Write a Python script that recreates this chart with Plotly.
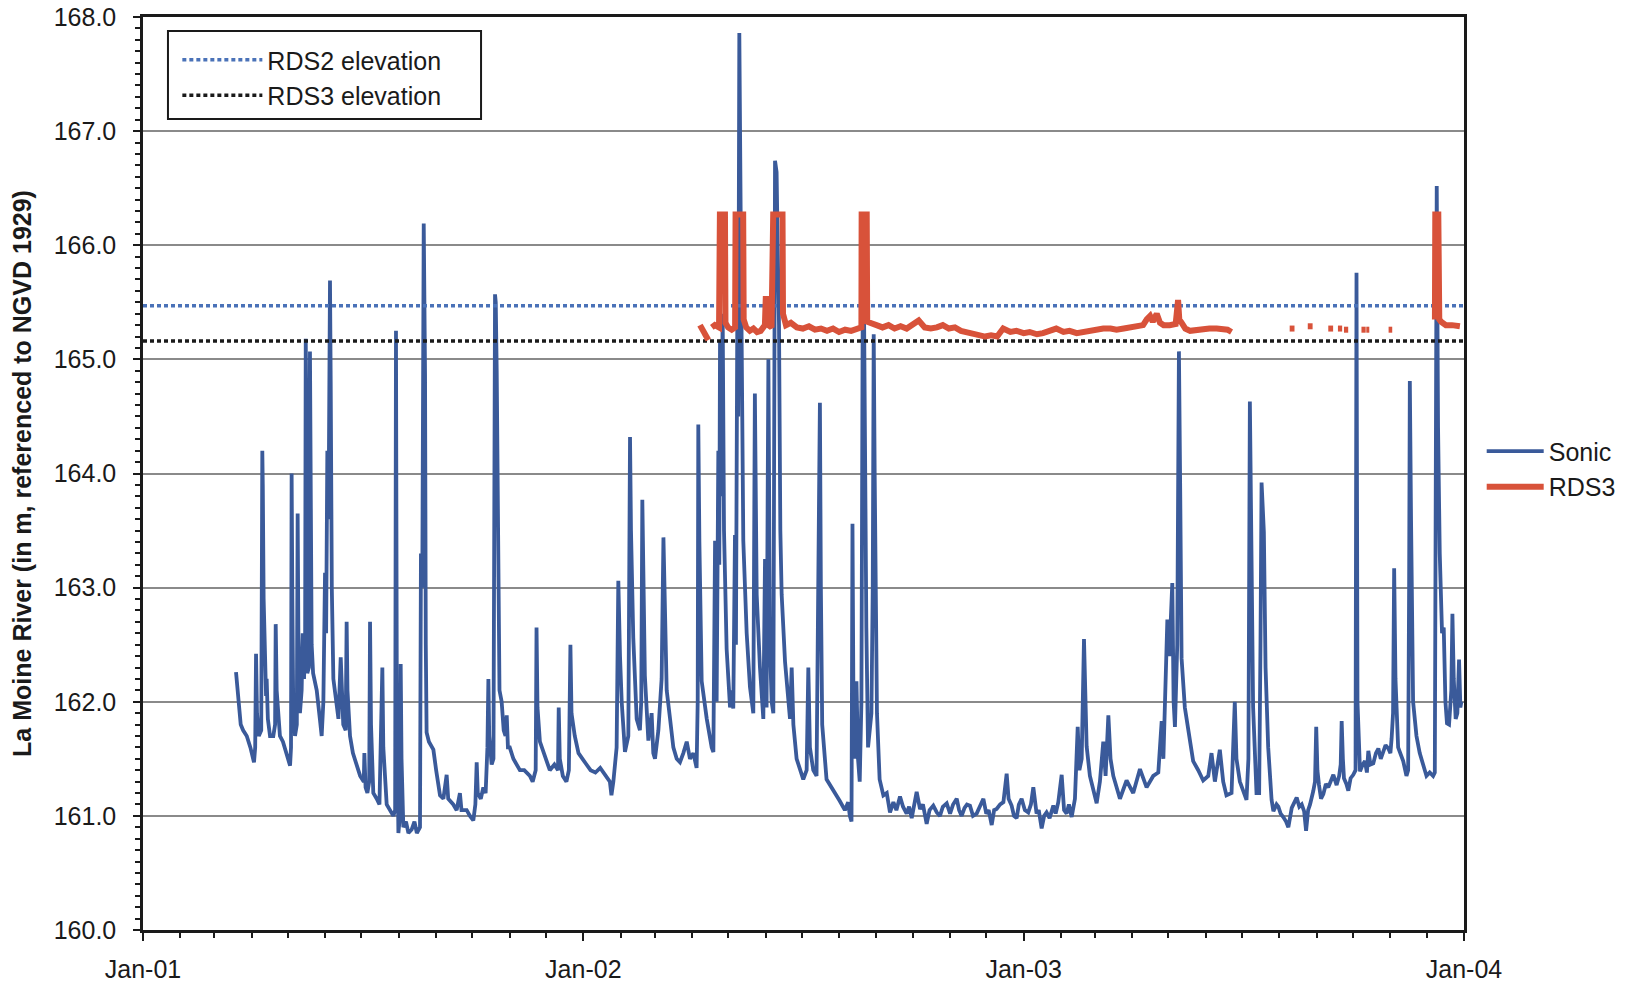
import plotly.graph_objects as go
import pandas as pd

# ---------------- data ----------------
# days since 1 Jan 2001, water level (m, NGVD 1929)
sonic_day = [
    77.1, 79, 81, 83, 86, 89, 92, 93, 93.7, 94.5, 96, 98, 98.9, 99.3, 100, 101.1, 102, 102.5, 103.5, 105.3,
    108, 109.5, 110, 110.8, 112, 113.5, 116, 119, 121.9, 122.7, 123.2, 123.8, 124.5, 126, 127.5, 128.2, 128.8,
    130.1, 131.5, 132.4, 133.5, 134.4, 134.9, 135.4, 136.2, 137.5, 138.4, 139, 139.8, 141, 144, 146.7, 148.1,
    149.5, 150.9, 151.8, 152.8, 153.8, 155, 155.6, 156.5, 157.8, 160.5, 162, 163.9, 165, 166, 168, 168.8, 169.5,
    171.6, 174, 177.1, 180, 183, 183.5, 184.5, 186, 187.5, 188.2, 189, 190.9, 193.7, 196, 198.4, 199.2, 202,
    205, 207.5, 209, 209.7, 210.4, 211, 211.7, 213, 213.6, 214.3, 215.8, 218, 220, 222.7, 225, 227, 229.6,
    230.4, 231.5, 232.7, 233.2, 233.8, 234.4, 235.1, 237, 240.7, 243, 246.2, 249, 251.7, 253, 257.2, 260,
    262.7, 264, 268.3, 271, 273.8, 275.5, 276.6, 277.5, 280, 282.1, 284, 285.5, 286.3, 287, 289, 290.5, 291.8,
    292.4, 293.2, 294, 294.6, 295.5, 297.3, 299, 300.5, 301.5, 302.5, 304, 307, 312.4, 316, 320.7, 323, 325.5,
    326.2, 327, 329, 332, 337.2, 341, 344, 344.6, 345.5, 348, 351, 353, 354.3, 355.2, 357.9, 361, 364, 367.6,
    371, 375, 379, 381.4, 384, 387, 388.3, 389.9, 392.6, 394, 395.4, 396.8, 399.5, 402.3, 403.7, 404.5,
    406.4, 409.2, 411.9, 413, 413.9, 414.7, 416, 418.9, 421.6, 423, 424.4, 427.2, 429.9, 431.4, 432.7, 434.1,
    436.9, 439.6, 442.4, 445.1, 447.9, 450.7, 453.4, 456.2, 458.9, 459.8, 460.3, 461.2, 463.1, 467.3, 471.4,
    472.8, 474.2, 475.5, 476.9, 477.7, 478.3, 479.1, 480.5, 481.6, 483.8, 486.6, 488, 489.3, 490.7, 491.5,
    492.6, 493.4, 494.3, 495.1, 496.2, 497.6, 500.4, 503.1, 505.9, 507.2, 508.1, 508.7, 511.4, 514.2, 515.6,
    516.9, 518.4, 519.7, 521.1, 522.5, 523.9, 525.2, 526.1, 527.2, 528.3, 529.4, 532.2, 534.9, 536.3, 537.7,
    539.1, 541.8, 544.6, 547.3, 550.1, 551.5, 552.8, 555.6, 558.3, 561.1, 561.9, 563, 566.6, 572.1, 577.6,
    581.8, 584.5, 585.9, 587.3, 588.1, 588.9, 590, 591.4, 592.7, 594.1, 595.5, 596.6, 597.7, 598.8, 599.6,
    601, 603.8, 604.9, 605.7, 606.5, 607.3, 608.4,
    610.6, 613.7, 616.5, 619.2, 622, 624.5, 627.5, 630, 633, 635, 637.2, 641.3, 644.1, 646.5, 649.6, 652,
    655.1, 658, 660.6, 663, 666.2, 669, 671.5, 674.5, 676.5, 678.6, 681, 683, 685.5, 688, 691, 693.5, 696.6,
    699, 701, 703.5, 705.5, 707.6, 710.5, 713.2, 715.9, 717.5, 720, 722, 724.2, 726, 728.3, 731, 733.8, 736,
    738, 740.7, 742.5, 744.9, 747, 749, 751.5, 754.6, 756.5, 758.7, 761.5, 763.5, 765.6, 767.5, 769.8, 772.5,
    773.9, 774.8, 776.2, 778.1, 780,
    781.1, 782.2, 784.9, 790.5, 793.2, 796, 797.9, 800.2, 802, 804.3, 809.8, 815.3, 820.8, 826.4, 831.9,
    837.4, 841.6, 844.4, 845.8, 847.7, 849.1, 850.7, 851.8, 853.2, 854.3, 855.4, 857.3, 858.7, 859.8, 860.9,
    863.6, 866.4, 870.5, 874.7, 878.8, 883, 885.7, 888.5, 892.6, 895.4, 898.1, 902.3, 905, 906.4, 909.2,
    914.7, 916.3, 917.5, 918.6, 920.2, 923, 925.2, 926.3, 927.2, 929.1, 930.5,
    932.7, 935.5, 937, 939.6, 941.1, 943, 945.2, 947.5, 949.4, 951,
    952.2, 954.5, 956.3, 958.5, 960.5, 962.5, 964.1, 965.8, 967.4, 970.1,
    971.5, 972.5, 973.5, 974.8, 976.5, 978.4, 980.5, 982.5, 984.5, 986.7,
    989.4, 991.5, 992.8, 993.6, 994.6, 995.5, 997.5, 999.1, 1001, 1003.2,
    1005.1, 1005.9, 1006.7, 1008.8, 1011, 1012.9, 1014.5, 1015.7, 1017.5, 1019.8,
    1022, 1024, 1026, 1028.1, 1030, 1032.3, 1034, 1035, 1036.2,
    1037.1, 1038.2, 1040.4,
    1044.6, 1047.3, 1048.7, 1049.5, 1050.1, 1051.1, 1052.8, 1055.6, 1058.3, 1061.1, 1063.9, 1066.6, 1069.4,
    1070.8, 1071.6, 1072.4, 1073.5, 1074.9, 1076.8, 1078.2, 1079.6, 1080.9, 1082.6, 1084.5, 1085.4, 1086.5,
    1088.1, 1089.5, 1090.9, 1092, 1092.8,
]
sonic_level = [
    162.26, 162.0, 161.8, 161.75, 161.7, 161.6, 161.47, 161.6, 162.42, 161.9, 161.7, 161.75, 164.2, 163.9, 162.9, 162.25, 162.05, 162.2, 161.85, 161.7,
    161.7, 161.8, 162.68, 162.1, 161.85, 161.7, 161.65, 161.55, 161.44, 161.6, 164.0, 162.9, 162.0, 161.7, 161.8, 163.65, 162.6,
    161.9, 162.1, 162.6, 162.2, 162.6, 165.18, 164.5, 162.25, 162.3, 165.07, 164.3, 162.5, 162.25, 162.1, 161.84, 161.7,
    162.0, 163.13, 162.6, 164.2, 163.6, 165.69, 164.8, 163.0, 162.2, 161.97, 161.85, 162.39, 161.95, 161.8, 161.75, 162.7, 162.1,
    161.7, 161.55, 161.44, 161.35, 161.3, 161.55, 161.25, 161.2, 161.3, 162.7, 161.8, 161.2, 161.15, 161.1, 162.3, 161.6, 161.1,
    161.05, 161.0, 161.05, 165.25, 162.0, 161.1, 160.85, 161.0, 162.33, 161.5, 160.9, 160.95, 160.85, 160.88, 160.95, 160.85, 160.9,
    163.3, 163.0, 166.19, 165.5, 164.87, 162.5, 161.73, 161.65, 161.58, 161.4, 161.18, 161.15, 161.36, 161.15, 161.1, 161.05,
    161.2, 161.05, 161.05, 161.0, 160.96, 161.1, 161.47, 161.2, 161.15, 161.25, 161.2, 161.6, 162.2, 161.7, 161.45, 161.5, 165.57,
    165.5, 164.9, 163.5, 162.4, 162.1, 162.0, 161.75, 161.7, 161.88, 161.6, 161.6, 161.5, 161.4, 161.4, 161.35, 161.3, 161.4,
    162.65, 161.95, 161.65, 161.55, 161.4, 161.45, 161.4, 161.95, 161.5, 161.35, 161.3, 161.4, 162.5, 161.9, 161.7, 161.55, 161.5, 161.45,
    161.4, 161.38, 161.42, 161.38, 161.35, 161.3, 161.18, 161.3, 161.6, 163.06, 162.4, 162.0, 161.56, 161.7, 164.32, 163.5,
    162.56, 161.85, 161.75, 162.0, 163.77, 163.0, 162.23, 161.66, 161.9, 161.55, 161.5, 161.75, 162.2, 163.44, 162.7, 162.1,
    161.85, 161.6, 161.5, 161.47, 161.55, 161.65, 161.5, 161.55, 161.42, 162.0, 164.43, 163.4, 162.18, 161.85, 161.6,
    161.56, 163.41, 162.0, 164.2, 163.2, 165.17, 163.8, 165.4, 163.5, 162.46, 161.95, 162.1, 161.94, 163.46, 162.5,
    165.3, 164.5, 167.86, 166.0, 165.2, 163.41, 162.6, 162.13, 161.9, 164.7, 163.6, 162.94, 162.3, 161.85, 163.25,
    161.95, 165.0, 162.5, 162.0, 161.9, 166.74, 166.64, 166.0, 165.3, 163.5, 162.94, 162.35, 162.0, 161.85, 162.3,
    161.8, 161.5, 161.4, 161.32, 161.4, 162.3, 161.6, 161.4, 161.35, 164.62, 163.0, 161.8, 161.32, 161.23, 161.13,
    161.05, 161.12, 161.0, 160.95, 163.56, 162.0, 161.5, 162.18, 161.5, 161.3, 162.0, 165.5, 165.4, 163.5, 162.65,
    161.6, 161.9, 163.0, 165.22, 164.0, 162.6, 161.9,
    161.32, 161.18, 161.2, 161.03, 161.12, 161.05, 161.17, 161.08, 161.02, 161.08, 160.98, 161.21, 161.06, 161.1, 160.93, 161.05,
    161.09, 161.03, 161.0, 161.08, 161.11, 161.02, 161.1, 161.15, 161.05, 161.0, 161.07, 161.1, 161.09, 161.0, 161.02, 161.08, 161.15,
    161.02, 161.05, 160.92, 161.05, 161.06, 161.1, 161.12, 161.37, 161.15, 161.09, 161.0, 160.98, 161.1, 161.15, 161.05, 161.03, 161.1,
    161.25, 161.02, 161.05, 160.89, 161.0, 161.03, 160.98, 161.09, 161.02, 161.12, 161.36, 161.05, 161.02, 161.1, 160.99, 161.15,
    161.6, 161.78, 161.4, 161.5, 162.55,
    162.0, 161.61, 161.35, 161.11, 161.3, 161.65, 161.35, 161.88, 161.5, 161.35, 161.15, 161.31, 161.2, 161.41, 161.25,
    161.35, 161.38, 161.83, 161.5, 162.3, 162.72, 162.4, 162.72, 163.04, 162.0, 161.78, 162.5, 165.07, 163.8, 162.38,
    161.95, 161.75, 161.48, 161.4, 161.31, 161.35, 161.55, 161.3, 161.58, 161.3, 161.18, 161.2, 162.0, 161.5, 161.3,
    161.14, 161.5, 164.63, 163.5, 161.95, 161.2, 161.2, 162.5, 163.92, 163.49, 162.3,
    161.6, 161.14, 161.04, 161.1, 161.08, 161.02, 160.99, 160.95, 160.9, 161.0,
    161.07, 161.12, 161.16, 161.08, 161.1, 161.04, 160.87, 161.05, 161.1, 161.22,
    161.3, 161.78, 161.4, 161.27, 161.15, 161.19, 161.28, 161.25, 161.3, 161.36,
    161.27, 161.35, 161.45, 161.83, 161.5, 161.33, 161.28, 161.22, 161.33, 161.36,
    161.4, 165.76, 162.0, 161.39, 161.45, 161.48, 161.38, 161.57, 161.45, 161.46,
    161.55, 161.59, 161.5, 161.56, 161.62, 161.59, 161.55, 161.68, 161.9,
    163.17, 162.2, 161.6,
    161.48, 161.35, 161.4, 163.0, 164.81, 163.6, 162.0, 161.7, 161.55, 161.45, 161.35, 161.38, 161.35,
    161.38, 164.0, 166.52, 164.4, 163.3, 162.6, 162.65, 162.0, 161.81, 161.8, 162.1, 162.77, 162.2,
    161.85, 161.9, 162.37, 161.95, 162.0,
]

# RDS3 record (None = gap in the record)
rds3_day = [
    461.7, 468.6, None,
    471.5, 474, 477.5, 478.2, 482.4, 482.8, 485, 488, 490.8, 491.2, 497.5, 497.9, 500, 503, 506, 509, 512,
    515.5, 516.2, 518, 518.5, 521, 522.4, 530.1, 530.5, 533, 537, 542, 547, 552, 557, 562, 567, 572, 577, 582,
    587, 592, 595.5, 595.7, 599.9, 600.3, 604, 608, 613, 618, 623, 628, 633, 638, 643, 648, 653, 658, 663, 668,
    673, 678, 683, 688, 693, 698, 703, 708, 713, 719, 724, 730, 735, 741, 746, 752, 757, 763, 768, 774, 779,
    785, 790, 796, 802, 807, 813, 818, 824, 829, 832, 834.8, 837, 840.3, 843, 846, 851, 856, 858, 859, 861,
    864, 868, 873, 879, 884, 890, 895, 899, 902.3, None,
    950.5, 954.5, None, 965.5, 969.5, None, 982.5, 986.5, None, 990.5, 994, None, 995.5, 999, None,
    1010, 1013.5, None, 1014, 1016.5, None, 1032.5, 1035.5, None,
    1070.9, 1071.2, 1073.7, 1074.5, 1076, 1080, 1085, 1091.6,
]
rds3_level = [
    165.30, 165.17, None,
    165.28, 165.30, 165.28, 166.27, 166.27, 165.32, 165.28, 165.26, 165.28, 166.27, 166.27, 165.35, 165.28, 165.25, 165.27, 165.24, 165.25,
    165.30, 165.53, 165.53, 165.30, 165.28, 166.27, 166.27, 165.40, 165.30, 165.32, 165.28, 165.27, 165.29, 165.26, 165.27, 165.25, 165.27, 165.24, 165.26,
    165.25, 165.27, 165.28, 166.27, 166.27, 165.33, 165.31, 165.30, 165.28, 165.30, 165.27, 165.29, 165.27, 165.30, 165.34, 165.28, 165.27, 165.28, 165.30, 165.27,
    165.28, 165.25, 165.24, 165.22, 165.21, 165.20, 165.21, 165.20, 165.27, 165.24, 165.25, 165.23, 165.24, 165.22, 165.23, 165.25, 165.27, 165.24, 165.25, 165.23, 165.24,
    165.25, 165.25, 165.27, 165.27, 165.26, 165.27, 165.28, 165.28, 165.30, 165.35, 165.38, 165.33, 165.40, 165.32, 165.30, 165.30, 165.31, 165.52, 165.35, 165.32,
    165.27, 165.25, 165.26, 165.26, 165.27, 165.27, 165.27, 165.26, 165.24, None,
    165.27, 165.27, None, 165.29, 165.29, None, 165.27, 165.27, None, 165.27, 165.27, None, 165.26, 165.26, None,
    165.26, 165.26, None, 165.26, 165.26, None, 165.26, 165.26, None,
    165.35, 166.27, 166.27, 165.35, 165.33, 165.30, 165.30, 165.29,
]

rds2_elevation = 165.47
rds3_elevation = 165.16

x_start = "2001-01-01"
x_end = "2004-01-01"
year_ticks = ["2001-01-01", "2002-01-01", "2003-01-01", "2004-01-01"]
year_labels = ["Jan-01", "Jan-02", "Jan-03", "Jan-04"]
y_title = "La Moine River (in m, referenced to NGVD 1929)"

# ---------------- build ----------------
origin = pd.Timestamp(x_start)
def to_dates(days):
    return [None if d is None else origin + pd.Timedelta(days=d) for d in days]

FONT = "Liberation Sans, Arial, sans-serif"
fig = go.Figure()

fig.add_trace(go.Scatter(
    x=to_dates(sonic_day), y=sonic_level, mode="lines", name="Sonic",
    line=dict(color="#3a5a9a", width=3.8), legend="legend"))
fig.add_trace(go.Scatter(
    x=[x_start, x_end], y=[rds2_elevation, rds2_elevation], mode="lines", name="RDS2 elevation",
    line=dict(color="#4a72b8", width=3.5, dash="4px,3px"), legend="legend2"))
fig.add_trace(go.Scatter(
    x=[x_start, x_end], y=[rds3_elevation, rds3_elevation], mode="lines", name="RDS3 elevation",
    line=dict(color="#1a1a1a", width=3.5, dash="4px,3px"), legend="legend2"))
fig.add_trace(go.Scatter(
    x=to_dates(rds3_day), y=rds3_level, mode="lines", name="RDS3", connectgaps=False,
    line=dict(color="#d8523a", width=6), legend="legend"))

fig.update_layout(
    width=1633, height=988,
    margin=dict(l=143, r=169, t=17, b=58, autoexpand=False),
    paper_bgcolor="white", plot_bgcolor="white",
    font=dict(family=FONT, size=25, color="#1a1a1a"),
    legend=dict(x=1.0134, y=0.505, xanchor="left", yanchor="middle",
                bgcolor="rgba(0,0,0,0)", font=dict(size=25), tracegroupgap=0,
                itemwidth=57),
    legend2=dict(x=0.026, y=0.978, xanchor="left", yanchor="top",
                 bgcolor="rgba(0,0,0,0)", font=dict(size=25), itemwidth=80),
    shapes=[dict(type="rect", xref="paper", yref="paper",
                 x0=0.0189, x1=0.2559, y0=0.8883, y1=0.9847,
                 line=dict(color="#1a1a1a", width=2), fillcolor="white", layer="below")],
)

fig.update_xaxes(
    type="date", range=[x_start, x_end], automargin=False,
    tickvals=year_ticks, ticktext=year_labels,
    ticks="outside", ticklen=8, tickwidth=2, tickcolor="#1a1a1a",
    showgrid=False, zeroline=False,
    showline=True, linecolor="#1a1a1a", linewidth=3, mirror=True,
    tickfont=dict(size=25, family=FONT), ticklabelstandoff=7,
    minor=dict(dtick="M1", tick0=x_start, ticks="outside", ticklen=5, tickwidth=1.5,
               tickcolor="#1a1a1a", showgrid=False),
)
fig.update_yaxes(
    range=[160, 168], dtick=1, tickformat=".1f", automargin=False,
    ticks="outside", ticklen=7, tickwidth=2, tickcolor="#1a1a1a",
    showgrid=True, gridcolor="#8a8a8a", gridwidth=1.5, zeroline=False,
    showline=True, linecolor="#1a1a1a", linewidth=2.5, mirror=True,
    tickfont=dict(size=25, family=FONT), ticklabelstandoff=12,
    title=dict(text="<b>" + y_title + "</b>", font=dict(size=25, family=FONT), standoff=15),
    minor=dict(dtick=0.1, ticks="outside", ticklen=5, tickwidth=1.5, tickcolor="#1a1a1a",
               showgrid=False),
)

fig.write_html("out.html", config={"displayModeBar": False},
               post_script="document.body.style.margin='0';document.body.style.overflow='hidden';")
